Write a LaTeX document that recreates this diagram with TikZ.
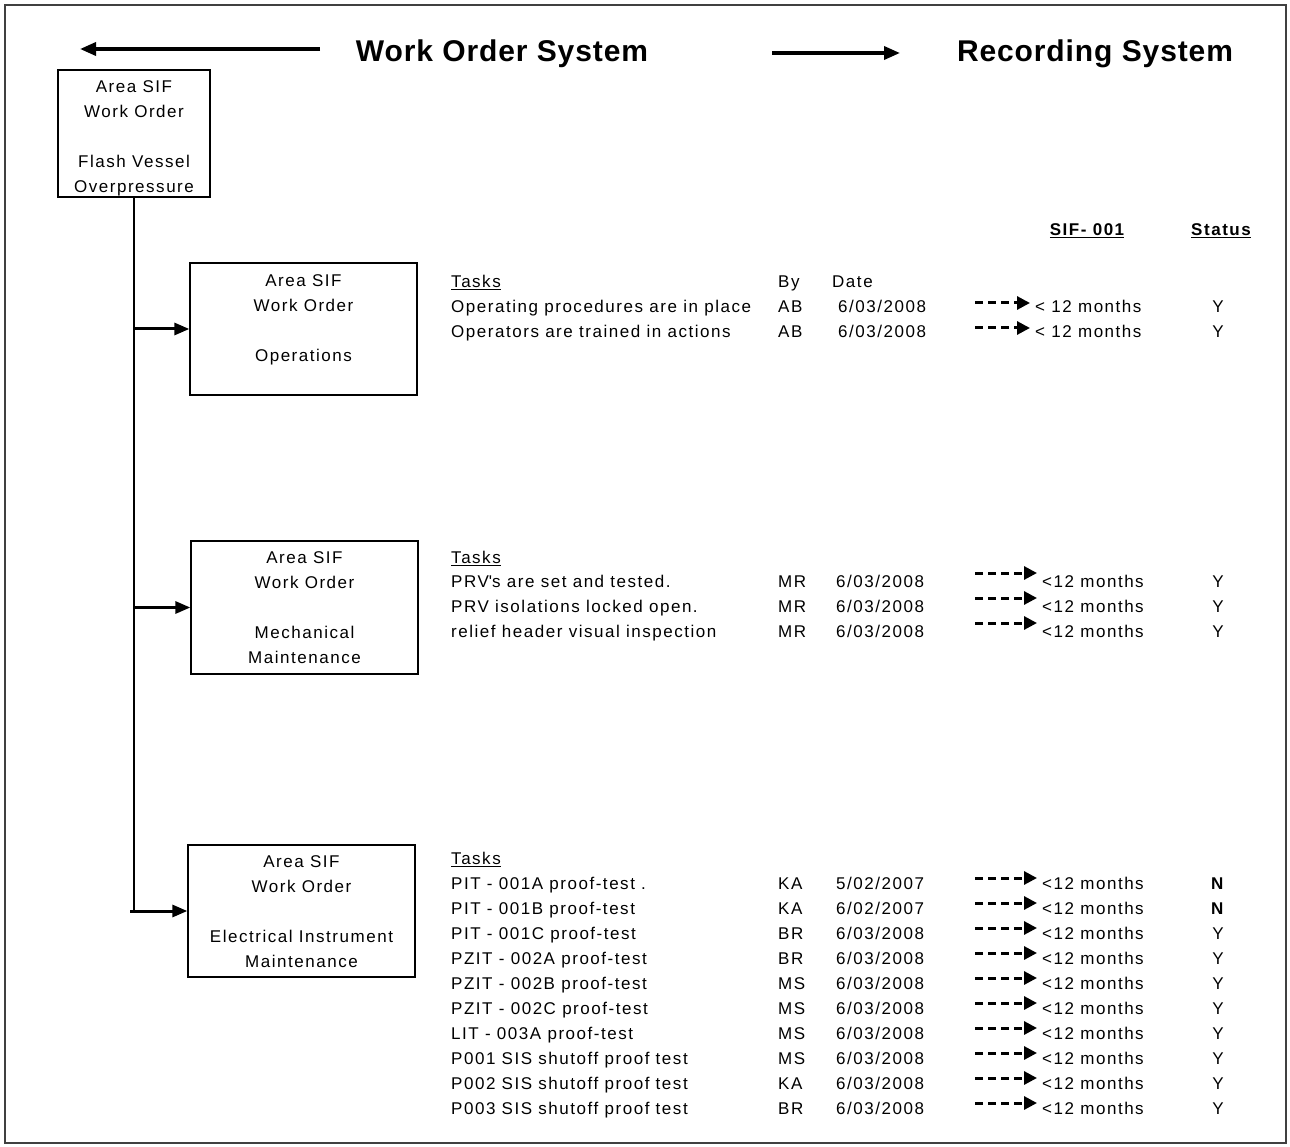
\documentclass[tikz,border=0pt]{standalone}
\usepackage{fontspec}
\setmainfont{Liberation Sans}[LetterSpace=9]
\newfontfamily\titlefont{Liberation Sans}[LetterSpace=3]
\usetikzlibrary{arrows.meta}
\begin{document}
\begin{tikzpicture}[x=1pt,y=-1pt,
  txt/.style={inner sep=0pt, text height=12.5pt, text depth=0pt, font=\fontsize{17}{25}\selectfont},
  bold/.style={txt, font=\bfseries\fontsize{17}{25}\selectfont},
  titletxt/.style={inner sep=0pt, font=\titlefont\bfseries\fontsize{30}{36}\selectfont},
  boxed/.style={draw, line width=1.3pt, inner sep=0pt},
  boxtxt/.style={inner sep=0pt, align=center, anchor=north, font=\fontsize{17}{25.3}\selectfont},
  trunk/.style={line width=1.5pt},
  feed/.style={line width=3pt, -{Triangle[length=15pt,width=12pt]}},
  titlearrow/.style={line width=3.5pt, -{Triangle[length=16pt,width=13pt]}},
  rec/.style={line width=3pt, dash pattern=on 8pt off 5pt, shorten >=5pt, -{Triangle[length=13pt,width=13pt]}}
]
\useasboundingbox (0,0) rectangle (1290,1147);
\draw[line width=1.3pt, black!75] (5,5) rectangle (1286,1143);

% titles
\node[titletxt] (wos) at (502,54) {Work Order System};
\node[titletxt] (rs) at (1095,54) {Recording System};
\coordinate (la1) at (320,49);
\coordinate (la2) at (80,49);
\coordinate (ra1) at (772,53);
\coordinate (ra2) at (900,53);
\draw[titlearrow] (la1) -- (la2);
\draw[titlearrow] (ra1) -- (ra2);

% boxes
\node[boxed, minimum width=152pt, minimum height=127pt] (b1) at (134,133.5) {};
\node[boxtxt] (b1t) at (134,80) {Area SIF\\Work Order\\[25pt]Flash Vessel\\Overpressure};
\node[boxed, minimum width=227pt, minimum height=132pt] (b2) at (303.5,329) {};
\node[boxtxt] (b2t) at (303.5,274) {Area SIF\\Work Order\\[25pt]Operations};
\node[boxed, minimum width=227pt, minimum height=133pt] (b3) at (304.5,607.5) {};
\node[boxtxt] (b3t) at (304.5,551) {Area SIF\\Work Order\\[25pt]Mechanical\\Maintenance};
\node[boxed, minimum width=227pt, minimum height=132pt] (b4) at (301.5,911) {};
\node[boxtxt] (b4t) at (301.5,855) {Area SIF\\Work Order\\[25pt]Electrical Instrument\\Maintenance};

% connectors
\coordinate (j2) at (b1.south |- b2.west);
\coordinate (j3) at (b1.south |- b3.west);
\coordinate (j4) at (b1.south |- b4.west);
\draw[trunk] (b1.south) -- ([yshift=1pt]j4);
\draw[feed] ([xshift=-1pt]j2) -- (b2.west);
\draw[feed] ([xshift=-1pt]j3) -- (b3.west);
\draw[feed] ([xshift=-4pt]j4) -- (b4.west);

% column headers
\node[bold] (sif) at (1087,229) {\underline{SIF- 001}};
\node[bold] (stat) at (1221,229) {\underline{Status}};

% operations
\node[txt, anchor=west] (oth) at (451,281) {\underline{Tasks}};
\node[txt, anchor=west] (oby) at (778,281) {By};
\node[txt, anchor=west] (odt) at (832,281) {Date};
\foreach \t/\b [count=\i, evaluate=\i as \y using 281+25*\i] in {
  Operating procedures are in place/AB,
  Operators are trained in actions/AB}{
  \node[txt, anchor=west] (ot\i) at (451,\y) {\t};
  \node[txt, anchor=west] (ob\i) at (778,\y) {\b};
  \node[txt, anchor=west] (od\i) at (838,\y) {6/03/2008};
  \coordinate (oa\i) at (975,\y-3);
  \node[txt, anchor=west] (om\i) at (1035,\y) {< 12 months};
  \draw[rec] (oa\i) -- (oa\i -| om\i.west);
  \node[txt] (os\i) at (1218,\y) {Y};
}

% mechanical
\node[txt, anchor=west] (mth) at (451,557) {\underline{Tasks}};
\foreach \t/\b [count=\i, evaluate=\i as \y using 556+25*\i] in {
  PRV\textquotesingle s are set and tested./MR,
  PRV isolations locked open./MR,
  relief header visual inspection/MR}{
  \node[txt, anchor=west] (mt\i) at (451,\y) {\t};
  \node[txt, anchor=west] (mb\i) at (778,\y) {\b};
  \node[txt, anchor=west] (md\i) at (836,\y) {6/03/2008};
  \coordinate (ma\i) at (975,\y-8);
  \node[txt, anchor=west] (mm\i) at (1042,\y) {<12 months};
  \draw[rec] (ma\i) -- (ma\i -| mm\i.west);
  \node[txt] (ms\i) at (1218,\y) {Y};
}

% electrical instrument
\node[txt, anchor=west] (eth) at (451,858) {\underline{Tasks}};
\foreach \t/\b/\d/\s [count=\i, evaluate=\i as \y using 858+25*\i] in {
  PIT - 001A proof-test ./KA/5{/}02{/}2007/\textbf{N},
  PIT - 001B proof-test/KA/6{/}02{/}2007/\textbf{N},
  PIT - 001C proof-test/BR/6{/}03{/}2008/Y,
  PZIT - 002A proof-test/BR/6{/}03{/}2008/Y,
  PZIT - 002B proof-test/MS/6{/}03{/}2008/Y,
  PZIT - 002C proof-test/MS/6{/}03{/}2008/Y,
  LIT - 003A proof-test/MS/6{/}03{/}2008/Y,
  P001 SIS shutoff proof test/MS/6{/}03{/}2008/Y,
  P002 SIS shutoff proof test/KA/6{/}03{/}2008/Y,
  P003 SIS shutoff proof test/BR/6{/}03{/}2008/Y}{
  \node[txt, anchor=west] (et\i) at (451,\y) {\t};
  \node[txt, anchor=west] (eb\i) at (778,\y) {\b};
  \node[txt, anchor=west] (ed\i) at (836,\y) {\d};
  \coordinate (ea\i) at (975,\y-5);
  \node[txt, anchor=west] (em\i) at (1042,\y) {<12 months};
  \draw[rec] (ea\i) -- (ea\i -| em\i.west);
  \node[txt] (es\i) at (1218,\y) {\s};
}
\end{tikzpicture}
\end{document}
